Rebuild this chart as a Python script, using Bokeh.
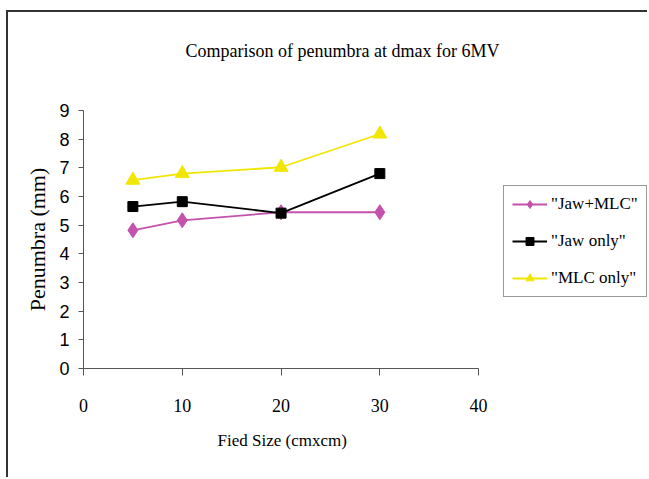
from bokeh.plotting import figure
from bokeh.models import Range1d, Legend, LegendItem, FixedTicker, Title
from bokeh.embed import file_html
from bokeh.resources import INLINE

field_size = [5, 10, 20, 30]
jaw_mlc = [4.82, 5.17, 5.45, 5.45]
jaw_only = [5.65, 5.82, 5.42, 6.80]
mlc_only = [6.57, 6.80, 7.02, 8.18]
x_ticks = [0, 10, 20, 30, 40]
y_ticks = [0, 1, 2, 3, 4, 5, 6, 7, 8, 9]

# frame spans to the right edge so the legend fits inside it; axis drawn 0..40
p = figure(width=641, height=467, output_backend="svg", toolbar_location=None,
           x_range=Range1d(0, 57.3), y_range=Range1d(0, 9),
           min_border_left=75, min_border_right=0, min_border_top=98, min_border_bottom=111)
p.margin = (10, 0, 0, 6)
p.styles = {"border-left": "2px solid #333333", "border-top": "2px solid #333333"}
p.background_fill_color = "white"
p.border_fill_color = "white"
p.outline_line_color = None
p.grid.visible = False

serif = "Liberation Serif"
p.title.text = "Comparison of penumbra at dmax for 6MV"
p.title.text_font = serif
p.title.text_font_size = "18px"
p.title.text_font_style = "normal"
p.title.text_color = "black"
p.title.align = "left"
p.title.offset = 102
p.title.standoff = 10

# spacer title between the frame and the real title
spacer = Title(text=" ", text_font_size="1px", standoff=42)
p.add_layout(spacer, "above")

p.xaxis.ticker = FixedTicker(ticks=x_ticks)
p.yaxis.ticker = FixedTicker(ticks=y_ticks)
p.xaxis.bounds = (0, 40)
for ax in (p.xaxis, p.yaxis):
    ax.axis_line_color = "#555555"
    ax.major_tick_line_color = "#555555"
    ax.minor_tick_line_color = None
    ax.major_tick_in = 0
    ax.axis_label_text_font = serif
    ax.axis_label_text_font_style = "normal"
    ax.axis_label_text_color = "black"
    ax.major_label_text_color = "black"
p.xaxis.major_tick_out = 7
p.yaxis.major_tick_out = 5
p.xaxis.major_label_text_font = serif
p.xaxis.major_label_text_font_size = "18px"
p.xaxis.major_label_standoff = 23
p.yaxis.major_label_text_font = "Liberation Sans"
p.yaxis.major_label_text_font_size = "18px"
p.yaxis.major_label_standoff = 9
p.yaxis.axis_label = "Penumbra (mm)"
p.yaxis.axis_label_text_font_size = "22px"
p.yaxis.axis_label_standoff = 6

xlabel = Title(text="Fied Size (cmxcm)", text_font=serif, text_font_size="17px",
               text_font_style="normal", text_color="black", align="left",
               offset=134, standoff=28)
p.add_layout(xlabel, "below")

magenta = "#C452AC"
yellow = "#F2E600"

l1 = p.line(field_size, jaw_mlc, line_color=magenta, line_width=1.8)
m1 = p.scatter(field_size, jaw_mlc, marker="diamond", size=15, fill_color=magenta, line_color=magenta)
l2 = p.line(field_size, jaw_only, line_color="black", line_width=1.8)
m2 = p.scatter(field_size, jaw_only, marker="square", size=10, fill_color="black", line_color="black")
l3 = p.line(field_size, mlc_only, line_color=yellow, line_width=1.8)
m3 = p.scatter(field_size, mlc_only, marker="triangle", size=14, fill_color=yellow, line_color=yellow)

legend = Legend(items=[
    LegendItem(label='"Jaw+MLC"', renderers=[l1, m1]),
    LegendItem(label='"Jaw only"', renderers=[l2, m2]),
    LegendItem(label='"MLC only"', renderers=[l3, m3]),
], location=(420, 71))
legend.label_text_font = serif
legend.label_text_font_size = "17px"
legend.label_text_color = "black"
legend.glyph_width = 35
legend.glyph_height = 20
legend.label_height = 20
legend.spacing = 17
legend.padding = 8
legend.label_standoff = 4
legend.margin = 0
legend.border_line_color = "#333333"
legend.border_line_width = 1.2
legend.background_fill_alpha = 1
p.add_layout(legend)

open("out.html", "w").write(file_html(p, INLINE))
